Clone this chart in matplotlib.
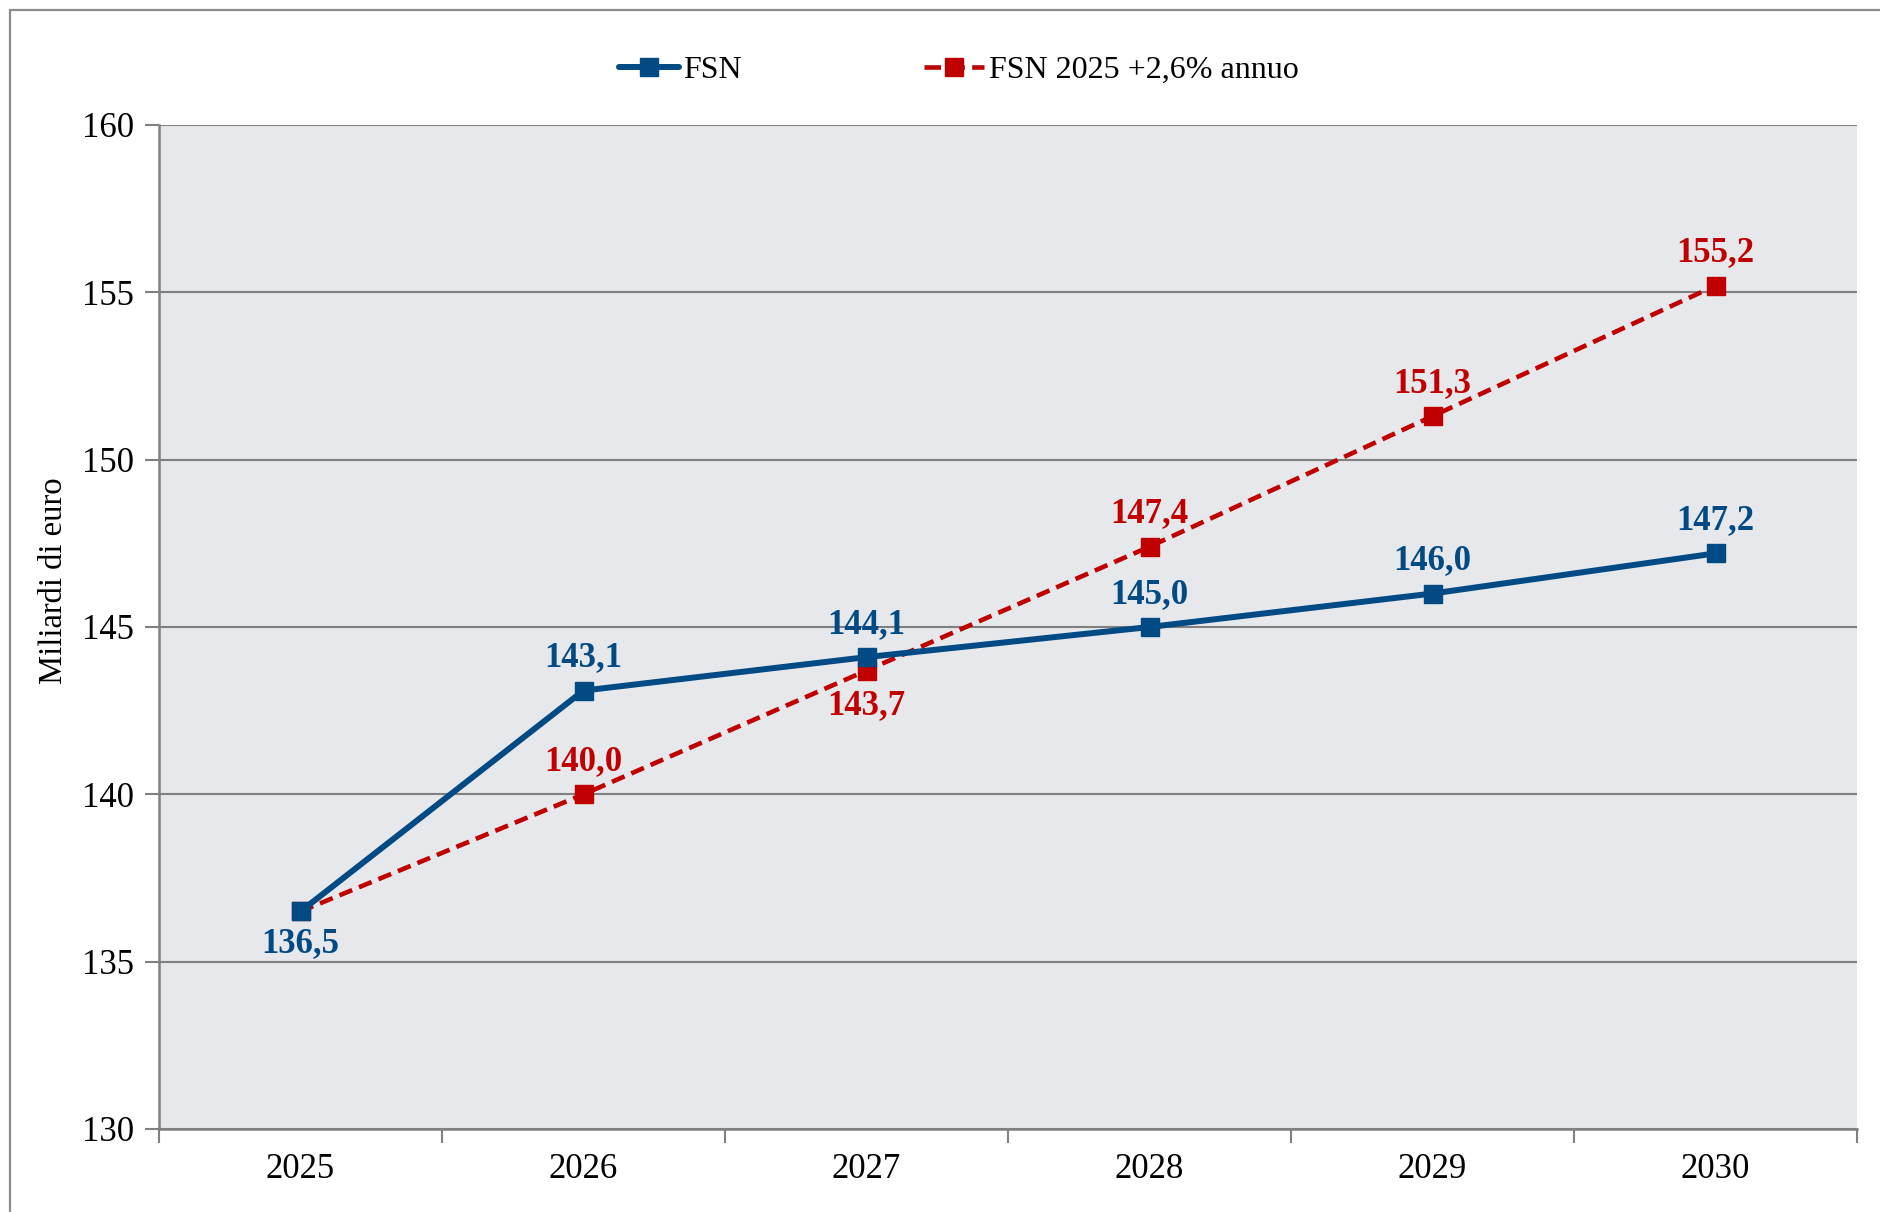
import matplotlib
matplotlib.use("Agg")
import matplotlib.pyplot as plt
from matplotlib.patches import Rectangle
from matplotlib.lines import Line2D

years = ["2025", "2026", "2027", "2028", "2029", "2030"]
fsn = [136.5, 143.1, 144.1, 145.0, 146.0, 147.2]
fsn_trend = [136.5, 140.0, 143.7, 147.4, 151.3, 155.2]
fsn_label_pos = ["below", "above", "above", "above", "above", "above"]
trend_label_pos = [None, "above", "below", "above", "above", "above"]
y_ticks = [130, 135, 140, 145, 150, 155, 160]

BLUE = "#014A84"
RED = "#C00000"
GRID = "#808080"
FONT = "Liberation Serif"

plt.rcParams["font.family"] = [FONT, "DejaVu Serif"]

fig = plt.figure(figsize=(18.8, 12.12), dpi=100)
ax = fig.add_axes([159/1880, 1-1129/1212, (1857-159)/1880, (1129-125)/1212])
ax.set_facecolor("#E7E8EC")

x = list(range(len(years)))
ax.plot(x, fsn, color=BLUE, lw=4.3, marker="s", ms=13, mec=BLUE, mfc=BLUE, zorder=4,
        solid_capstyle="round")
ax.plot(x, fsn_trend, color=RED, lw=3.3, ls=(0, (3, 1.6)), marker="s", ms=13, mec=RED,
        mfc=RED, zorder=3)

ax.set_xlim(-0.5, len(years) - 0.5)
ax.set_ylim(130, 160)
ax.set_yticks(y_ticks)
ax.set_yticklabels([str(v) for v in y_ticks])
ax.set_xticks(x)
ax.set_xticklabels(years)
ax.set_xticks([i + 0.5 for i in range(-1, len(years))], minor=True)
ax.tick_params(axis="x", which="major", length=0, pad=17, labelsize=25)
ax.tick_params(axis="x", which="minor", length=10, width=1.5, color=GRID, direction="out")
ax.tick_params(axis="y", length=10, width=1.5, color=GRID, pad=8, labelsize=25)

ax.grid(axis="y", color=GRID, lw=1.5, zorder=1)
ax.set_axisbelow(True)
for s in ["top", "right"]:
    ax.spines[s].set_visible(False)
for s in ["left", "bottom"]:
    ax.spines[s].set_color(GRID)
    ax.spines[s].set_linewidth(1.8)

fig.text(54/1880, 1-581/1212, "Miliardi di euro", rotation=90, ha="center", va="center",
         fontsize=23.5)

def fmt(v):
    return f"{v:.1f}".replace(".", ",")

for xi, v, pos in zip(x, fsn, fsn_label_pos):
    dy = 23.5 if pos == "above" else -23
    ax.annotate(fmt(v), (xi, v), xytext=(0, dy), textcoords="offset points",
                ha="center", va="center", color=BLUE, fontsize=25, fontweight="bold", zorder=5)
for xi, v, pos in zip(x, fsn_trend, trend_label_pos):
    if pos is None:
        continue
    dy = 23.5 if pos == "above" else -25.5
    ax.annotate(fmt(v), (xi, v), xytext=(0, dy), textcoords="offset points",
                ha="center", va="center", color=RED, fontsize=25, fontweight="bold", zorder=5)

handles = [
    Line2D([], [], color=BLUE, lw=4.3, marker="s", ms=13, solid_capstyle="round"),
    Line2D([], [], color=RED, lw=3.3, ls=(0, (3.6, 1.6)), marker="s", ms=13),
]
leg = ax.legend(handles, ["FSN", "FSN 2025 +2,6% annuo"], ncol=2, loc="center",
                bbox_to_anchor=(0.471, 1.0545), frameon=False, fontsize=23,
                handlelength=1.88, handletextpad=0.15, columnspacing=5.7)

# outer frame (left and top edges visible)
fig.patches.append(Rectangle((10/1880, -0.1), 1.2, 1 - 10/1212 + 0.1,
                             transform=fig.transFigure, fill=False,
                             edgecolor="#8C8C8C", lw=1.6))

fig.savefig("out.png", dpi=100)
